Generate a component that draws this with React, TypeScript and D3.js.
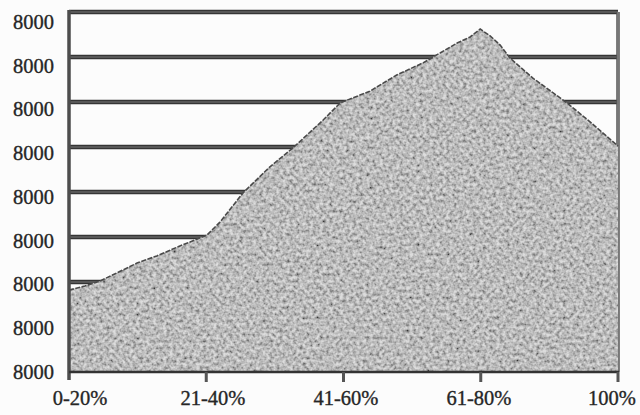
import React from "react";
import * as d3 from "d3";

// ---- data ----
const categories = ["0-20%", "21-40%", "41-60%", "61-80%", "100%"];
const categoryPct = [0, 25, 50, 75, 100];
const yTickValues = [0, 1, 2, 3, 4, 5, 6, 7, 8];
const yTickLabels = ["8000", "8000", "8000", "8000", "8000", "8000", "8000", "8000", "8000"];

const seriesPct = [
  0, 2.9, 5.6, 8.7, 12.4, 16.0, 20.2, 25.1, 27.5, 31.7, 36.6, 40.8, 46.3, 49.4,
  54.8, 59.7, 64.5, 67.6, 70.7, 73.0, 74.9, 76.7, 78.5, 80.3, 84.5, 90.7, 94.9, 100,
];
const seriesValues = [
  1.82, 1.91, 2.02, 2.2, 2.42, 2.58, 2.8, 3.04, 3.33, 3.98, 4.56, 4.98, 5.6, 5.98,
  6.24, 6.6, 6.87, 7.09, 7.31, 7.44, 7.62, 7.47, 7.27, 6.98, 6.53, 5.98, 5.56, 5.02,
];

const W = 640;
const H = 415;

export default function App() {
  const x = d3.scaleLinear().domain([0, 100]).range([69, 618]);
  const y = d3.scaleLinear().domain([0, 8]).range([372, 12]);
  const yLab = d3.scaleLinear().domain([0, 8]).range([372, 22]);
  const xLab = d3.scalePoint<string>().domain(categories).range([80, 612]);

  const pts = seriesPct.map((p, i) => ({ p, v: seriesValues[i] }));
  const area = d3
    .area<{ p: number; v: number }>()
    .x((d) => x(d.p))
    .y0(y(0))
    .y1((d) => y(d.v));
  const line = d3
    .line<{ p: number; v: number }>()
    .x((d) => x(d.p))
    .y((d) => y(d.v));

  const areaPath = area(pts) || "";
  const linePath = line(pts) || "";
  const [x0, x1] = x.range();
  const [yb, yt] = y.range();

  return (
    <svg
      width={W}
      height={H}
      viewBox={`0 0 ${W} ${H}`}
      style={{ position: "fixed", left: 0, top: 0, background: "#fcfcfc" }}
      fontFamily="'Liberation Serif', 'Times New Roman', serif"
    >
      <defs>
        <clipPath id="areaClip">
          <path d={areaPath} />
        </clipPath>
        <filter
          id="grain"
          filterUnits="userSpaceOnUse"
          x={x0}
          y={yt}
          width={x1 - x0}
          height={yb - yt}
        >
          <feTurbulence type="fractalNoise" baseFrequency="0.3" numOctaves="2" seed="7" result="n" />
          <feColorMatrix
            in="n"
            type="matrix"
            values="1.6 0 0 0 -0.2  1.6 0 0 0 -0.2  1.6 0 0 0 -0.2  0 0 0 0 1"
          />
        </filter>
      </defs>

      {/* gridlines */}
      {yTickValues.slice(1).map((v) => (
        <g key={"g" + v}>
          <line x1={x0} x2={x1} y1={y(v)} y2={y(v)} stroke="#353535" strokeWidth={4.5} />
          <line x1={x0} x2={x1} y1={y(v)} y2={y(v)} stroke="#7d7d7d" strokeWidth={1} />
        </g>
      ))}
      {/* right border */}
      <line x1={x1} x2={x1} y1={yt} y2={yb} stroke="#555" strokeWidth={3.5} />
      <line x1={x1} x2={x1} y1={yt} y2={yb} stroke="#999" strokeWidth={1} />

      {/* area with grain */}
      <g clipPath="url(#areaClip)">
        <rect x={x0} y={yt} width={x1 - x0} height={yb - yt} fill="#9d9d9d" />
        <rect x={x0} y={yt} width={x1 - x0} height={yb - yt} filter="url(#grain)" opacity={0.65} />
      </g>
      <path d={linePath} fill="none" stroke="#4a4a4a" strokeWidth={1.6} strokeDasharray="5 1.5" />

      {/* axes */}
      <line x1={x0} x2={x0} y1={yt - 2} y2={yb + 8} stroke="#4d4d4d" strokeWidth={3.5} />
      <line x1={x0} x2={x1 + 1} y1={yb} y2={yb} stroke="#333" strokeWidth={2.5} />
      {categoryPct.slice(1).map((p) => (
        <line key={"t" + p} x1={x(p)} x2={x(p)} y1={yb} y2={yb + 10} stroke="#555" strokeWidth={3} />
      ))}

      {/* y labels */}
      {yTickValues.map((v, i) => (
        <text
          key={"yl" + i}
          x={54}
          y={yLab(v) + 6.8}
          textAnchor="end"
          fontSize={20.5}
          fill="#262626"
          stroke="#262626"
          strokeWidth={0.35}
        >
          {yTickLabels[i]}
        </text>
      ))}

      {/* x labels */}
      {categories.map((c) => (
        <text
          key={c}
          x={xLab(c)}
          y={405}
          textAnchor="middle"
          fontSize={20.5}
          fill="#262626"
          stroke="#262626"
          strokeWidth={0.35}
        >
          {c}
        </text>
      ))}
    </svg>
  );
}
